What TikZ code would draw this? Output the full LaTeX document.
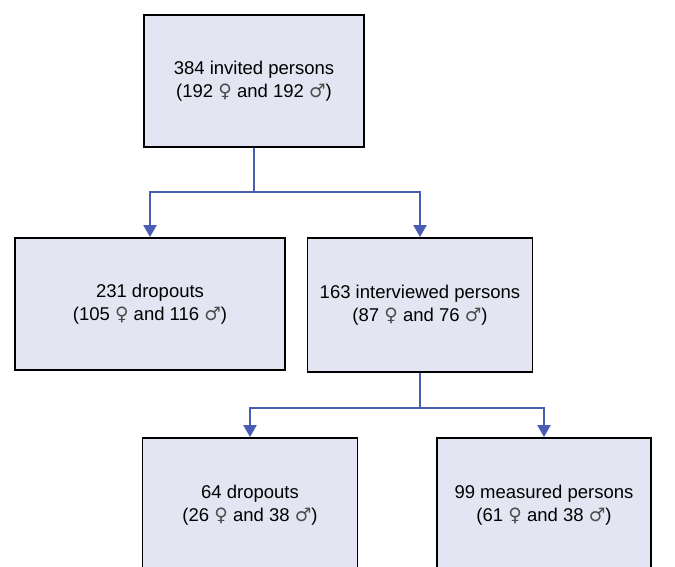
\documentclass[tikz,border=0pt]{standalone}
\usepackage{fontspec}
\setmainfont{Liberation Sans}
\newfontfamily\symfont{DejaVu Sans}
\usetikzlibrary{arrows.meta}
\definecolor{boxfill}{HTML}{E3E6F2}
\definecolor{connblue}{HTML}{4A5DB5}
\newcommand{\fem}{{\symfont\color{black!70}\char"2640}}
\newcommand{\mal}{{\symfont\color{black!70}\char"2642}}
\tikzset{
  box/.style={draw=black, line width=1.8pt, fill=boxfill, align=center,
    font=\fontsize{18.5}{23}\selectfont, inner sep=0pt},
  conn/.style={draw=connblue, line width=2pt},
  arr/.style={conn, -{Triangle[length=12pt,width=13pt]}}
}
\begin{document}
\begin{tikzpicture}[x=1pt,y=-1pt]
\useasboundingbox (0,0) rectangle (675,566);
\clip (0,0) rectangle (675,566);
\node[box, minimum width=220pt, minimum height=132pt] (top) at (254,81)
  {384 invited persons\\(192 \fem{} and 192 \mal)};
\node[box, minimum width=270pt, minimum height=132pt] (drop1) at (150,304)
  {231 dropouts\\(105 \fem{} and 116 \mal)};
\node[box, minimum width=225pt, minimum height=134pt] (inter) at (420,305)
  {163 interviewed persons\\(87 \fem{} and 76 \mal)};
\node[box, minimum width=215pt, minimum height=134pt] (drop2) at (250,505)
  {64 dropouts\\(26 \fem{} and 38 \mal)};
\node[box, minimum width=214pt, minimum height=134pt] (meas) at (544,505)
  {99 measured persons\\(61 \fem{} and 38 \mal)};
\coordinate (j1) at (254,192);
\coordinate (j2) at (420,408);
\draw[conn] (top.south) -- (j1);
\draw[arr] (j1) -| (drop1.north);
\draw[arr] (j1) -| (inter.north);
\draw[conn] (inter.south) -- (j2);
\draw[arr] (j2) -| (drop2.north);
\draw[arr] (j2) -| (meas.north);
\end{tikzpicture}
\end{document}
